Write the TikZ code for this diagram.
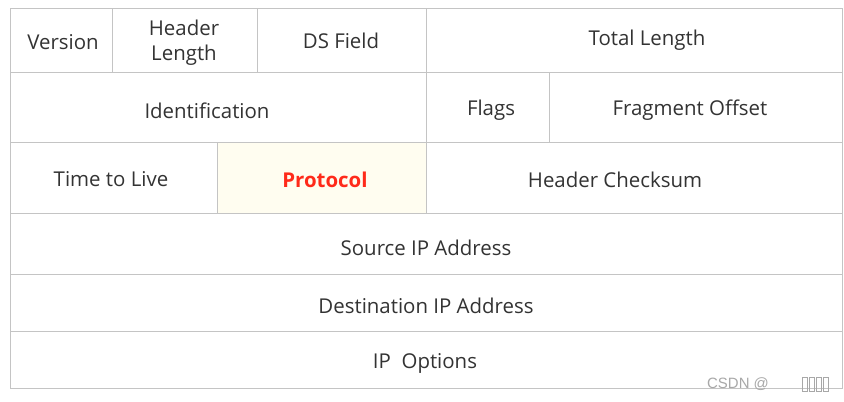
\documentclass[tikz,border=0pt]{standalone}
\usepackage{fontspec}
\setmainfont{Open Sans}
\newfontfamily\wmfont{Liberation Sans}
\definecolor{linegray}{HTML}{C4C4C4}
\definecolor{txtgray}{HTML}{333333}
\definecolor{protofill}{HTML}{FFFDF0}
\definecolor{protored}{HTML}{FF2A1A}
\definecolor{wmgray}{HTML}{A8A8A8}
\begin{document}
\begin{tikzpicture}[x=1bp,y=-1bp,
  cell/.style={draw=linegray, line width=1.3bp, rectangle, inner sep=0pt, anchor=north west},
  lbl/.style={font=\fontsize{20.5}{25}\selectfont, text=txtgray, inner sep=0pt, align=center, yshift=-1.5bp}]
\useasboundingbox[fill=white] (0,0) rectangle (844,401);
% row 1
\node[cell, minimum width=102bp, minimum height=64bp] (ver) at (10,8) {};
\node[cell, minimum width=145bp, minimum height=64bp] (hl) at (112,8) {};
\node[cell, minimum width=169bp, minimum height=64bp] (ds) at (257,8) {};
\node[cell, minimum width=416bp, minimum height=64bp] (tl) at (426,8) {};
% row 2
\node[cell, minimum width=416bp, minimum height=70bp] (id) at (10,72) {};
\node[cell, minimum width=123bp, minimum height=70bp] (fl) at (426,72) {};
\node[cell, minimum width=293bp, minimum height=70bp] (fo) at (549,72) {};
% row 3
\node[cell, minimum width=207bp, minimum height=71bp] (ttl) at (10,142) {};
\node[cell, minimum width=209bp, minimum height=71bp, fill=protofill] (pr) at (217,142) {};
\node[cell, minimum width=416bp, minimum height=71bp] (hc) at (426,142) {};
% rows 4-6
\node[cell, minimum width=832bp, minimum height=61bp] (src) at (10,213) {};
\node[cell, minimum width=832bp, minimum height=57bp] (dst) at (10,274) {};
\node[cell, minimum width=832bp, minimum height=57bp] (opt) at (10,331) {};
% labels
\node[lbl] (tver) at (63,41) {Version};
\node[lbl] (thl) at (184,41) {Header\\Length};
\node[lbl] (tds) at (341,39) {DS Field};
\node[lbl] (ttl2) at (647,39) {Total Length};
\node[lbl] (tid) at (207,109) {Identification};
\node[lbl] (tfl) at (491,109) {Flags};
\node[lbl] (tfo) at (690,109) {Fragment Offset};
\node[lbl] (tttl) at (111,178) {Time to Live};
\node[lbl, text=protored, font=\fontsize{20.5}{25}\selectfont\bfseries] (tpr) at (325,178) {Protocol};
\node[lbl] (thc) at (615,178) {Header Checksum};
\node[lbl] (tsrc) at (426,246) {Source IP Address};
\node[lbl] (tdst) at (426,304) {Destination IP Address};
\node[lbl] (topt) at (425,362) {IP\ \ Options};
% watermark
\node[font=\wmfont\fontsize{15}{17}\selectfont, text=wmgray, inner sep=0pt, anchor=west] (wm) at (707,384) {CSDN @};
\foreach \i in {0,1,2,3}{
  \draw[wmgray, line width=0.6bp] (802+7*\i,377) rectangle (807+7*\i,391);
}
\end{tikzpicture}
\end{document}
